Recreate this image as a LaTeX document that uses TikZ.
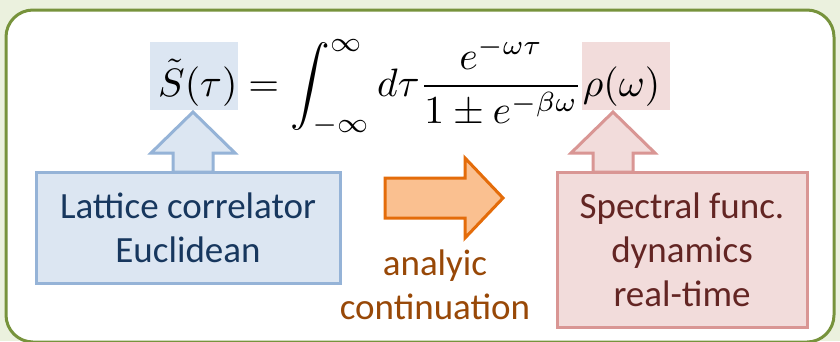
\documentclass[tikz,border=0pt]{standalone}
\usepackage{fontspec}
\setsansfont{Carlito}
\usepackage{graphicx}
\usetikzlibrary{positioning}

\definecolor{bggreen}{HTML}{EBF1DE}
\definecolor{framegreen}{HTML}{77933C}
\definecolor{latfill}{HTML}{DCE6F2}
\definecolor{latdraw}{HTML}{95B3D7}
\definecolor{lattext}{HTML}{17375E}
\definecolor{specfill}{HTML}{F2DCDB}
\definecolor{specdraw}{HTML}{D99694}
\definecolor{spectext}{HTML}{632523}
\definecolor{acfill}{HTML}{FAC090}
\definecolor{acdraw}{HTML}{E46C0A}
\definecolor{actext}{HTML}{984807}

\tikzset{
  sans/.style={font=\sffamily\fontsize{37}{44}\selectfont, align=center},
  textbox/.style={sans, draw, line width=3pt, inner sep=0pt},
  highlight/.style={inner sep=0pt, minimum width=88, minimum height=68},
  blockarrow/.style={line width=3pt, line join=miter}
}

\begin{document}
\begin{tikzpicture}[x=1pt, y=-1pt]
\useasboundingbox (0,0) rectangle (840,341);
%% background and frame
\fill[bggreen] (0,0) rectangle (840,341);
\draw[framegreen, line width=3pt, fill=white, rounded corners=27pt]
  (6,10) rectangle (834,342);
%% highlights behind the two sides of the formula
\node[highlight, fill=latfill] (shl) at (194,76) {};
\node[highlight, fill=specfill] (rhohl) at (626,76) {};
%% formula
\node[anchor=base west, inner sep=0pt] (eq) at (158,96)
  {\resizebox{502pt}{!}{$\displaystyle \tilde S(\tau) = \int_{-\infty}^{\infty} d\tau
   \frac{e^{-\omega\tau}}{1\pm e^{-\beta\omega}}\rho(\omega)$}};
%% up arrows
\draw[blockarrow, draw=latdraw, fill=latfill]
  (193,112) -- (235,153) -- (213,153) -- (213,172) -- (173,172)
  -- (173,153) -- (151,153) -- cycle;
\draw[blockarrow, draw=specdraw, fill=specfill]
  (613,112) -- (655,153) -- (633,153) -- (633,172) -- (593,172)
  -- (593,153) -- (571,153) -- cycle;
%% boxes
\node[textbox, fill=latfill, draw=latdraw, text=lattext,
  minimum width=304, minimum height=111] (lat) at (188,227.5)
  {Lattice correlator\\Euclidean};
\node[textbox, fill=specfill, draw=specdraw, text=spectext,
  minimum width=250, minimum height=155] (spec) at (682,249.5)
  {Spectral func.\\dynamics\\real-time};
%% analytic continuation
\draw[blockarrow, draw=acdraw, fill=acfill]
  (385,178) -- (465,178) -- (465,158) -- (503,198) -- (465,238)
  -- (465,218) -- (385,218) -- cycle;
\node[sans, text=actext, inner sep=0pt] (ac) at (435,284.5)
  {analyic\\continuation};
\end{tikzpicture}
\end{document}
